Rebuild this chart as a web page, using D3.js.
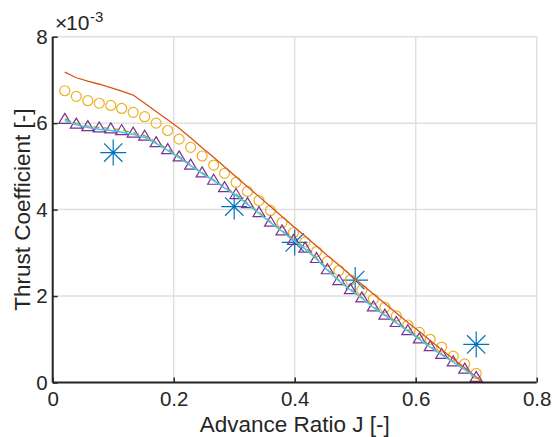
<!DOCTYPE html>
<html>
<head>
<meta charset="utf-8">
<script src="https://cdn.jsdelivr.net/npm/d3@7"></script>
<style>
  body { margin: 0; background: #fff; }
  svg text { font-family: "Liberation Sans", Arial, sans-serif; fill: #262626; }
</style>
</head>
<body>
<div id="chart"></div>
<script>
// Advance ratio grid shared by the marker series
const jGrid = [0.020, 0.039, 0.058, 0.077, 0.096, 0.114, 0.133, 0.152, 0.171, 0.190,
  0.209, 0.228, 0.247, 0.266, 0.284, 0.303, 0.322, 0.341, 0.360, 0.379,
  0.398, 0.417, 0.436, 0.454, 0.473, 0.492, 0.511, 0.530, 0.549, 0.568,
  0.587, 0.606, 0.624, 0.643, 0.662, 0.681, 0.700];

// thrust coefficient values, in units of 1e-3
const ctRed = [7.18, 7.05, 6.97, 6.90, 6.82, 6.74, 6.65, 6.46, 6.27, 6.08,
  5.88, 5.66, 5.43, 5.21, 4.99, 4.76, 4.53, 4.30, 4.07, 3.84,
  3.61, 3.39, 3.16, 2.94, 2.72, 2.49, 2.27, 2.05, 1.83, 1.61,
  1.39, 1.18, 0.97, 0.76, 0.55, 0.34, 0.13];
const jRedEnd = 0.711;
const ctRedEnd = 0;

const ctCircles = [6.75, 6.62, 6.52, 6.46, 6.41, 6.34, 6.25, 6.15, 6.00, 5.83,
  5.63, 5.44, 5.24, 5.03, 4.84, 4.63, 4.42, 4.21, 3.98, 3.70,
  3.47, 3.25, 3.03, 2.80, 2.59, 2.37, 2.14, 1.93, 1.74, 1.54,
  1.33, 1.16, 1.00, 0.82, 0.61, 0.43, 0.21];

const ctTriangles = [6.10, 5.99, 5.93, 5.90, 5.88, 5.84, 5.78, 5.71, 5.56, 5.40,
  5.23, 5.04, 4.86, 4.69, 4.52, 4.36, 4.15, 3.94, 3.72, 3.52,
  3.30, 3.12, 2.88, 2.62, 2.37, 2.16, 1.97, 1.76, 1.57, 1.40,
  1.21, 1.02, 0.84, 0.66, 0.49, 0.32, 0.13];

const ctCyan = [6.06, 5.96, 5.90, 5.86, 5.83, 5.79, 5.74, 5.67, 5.53, 5.37,
  5.20, 5.02, 4.84, 4.67, 4.50, 4.33, 4.12, 3.91, 3.70, 3.50,
  3.28, 3.09, 2.86, 2.60, 2.35, 2.14, 1.95, 1.74, 1.55, 1.38,
  1.19, 1.00, 0.82, 0.64, 0.47, 0.30, 0.11];

const jStars = [0.1, 0.3, 0.4, 0.5, 0.7];
const ctStars = [5.32, 4.07, 3.24, 2.37, 0.88];

const xTicks = [0, 0.2, 0.4, 0.6, 0.8];
const yTicks = [0, 2, 4, 6, 8];

const W = 555, H = 437;
const margin = { top: 36.7, right: 18.3, bottom: 54.5, left: 52.7 };
const width = W - margin.left - margin.right;
const height = H - margin.top - margin.bottom;

const svg = d3.select('#chart').append('svg')
  .attr('width', W).attr('height', H);

const g = svg.append('g')
  .attr('transform', 'translate(' + margin.left + ',' + margin.top + ')');

const x = d3.scaleLinear().domain([0, 0.8]).range([0, width]);
const y = d3.scaleLinear().domain([0, 8]).range([height, 0]);

// grid
g.append('g').selectAll('line.vg').data(xTicks).enter().append('line')
  .attr('x1', d => x(d)).attr('x2', d => x(d))
  .attr('y1', 0).attr('y2', height)
  .attr('stroke', '#dfdfdf').attr('stroke-width', 1.5);
g.append('g').selectAll('line.hg').data(yTicks).enter().append('line')
  .attr('x1', 0).attr('x2', width)
  .attr('y1', d => y(d)).attr('y2', d => y(d))
  .attr('stroke', '#dfdfdf').attr('stroke-width', 1.5);

g.append('defs').append('clipPath').attr('id', 'clip')
  .append('rect').attr('width', width).attr('height', height);

const plot = g.append('g');
const clipped = g.append('g').attr('clip-path', 'url(#clip)');

// stars
const r = 13, d2 = r * 0.7071;
const starPath = 'M' + (-r) + ',0H' + r + 'M0,' + (-r) + 'V' + r +
  'M' + (-d2) + ',' + (-d2) + 'L' + d2 + ',' + d2 +
  'M' + (-d2) + ',' + d2 + 'L' + d2 + ',' + (-d2);
plot.selectAll('path.star').data(jStars).enter().append('path')
  .attr('class', 'star')
  .attr('transform', (d, i) => 'translate(' + x(d) + ',' + y(ctStars[i]) + ')')
  .attr('d', starPath)
  .attr('fill', 'none').attr('stroke', '#0072BD').attr('stroke-width', 1.2);

// red line
const redPts = jGrid.map((j, i) => [j, ctRed[i]]).concat([[jRedEnd, ctRedEnd]]);
const line = d3.line().x(d => x(d[0])).y(d => y(d[1]));
clipped.append('path').datum(redPts)
  .attr('d', line).attr('fill', 'none')
  .attr('stroke', '#D95319').attr('stroke-width', 1.3);

// circles
plot.selectAll('circle.c').data(jGrid).enter().append('circle')
  .attr('cx', d => x(d)).attr('cy', (d, i) => y(ctCircles[i]))
  .attr('r', 5)
  .attr('fill', 'none').attr('stroke', '#EDB120').attr('stroke-width', 1.2);

// green dashed line
clipped.append('path').datum(jGrid.map((j, i) => [j, ctTriangles[i]]))
  .attr('d', line).attr('fill', 'none')
  .attr('stroke', '#77AC30').attr('stroke-width', 1.2)
  .attr('stroke-dasharray', '6,4');

// triangles
plot.selectAll('path.tri').data(jGrid).enter().append('path')
  .attr('transform', (d, i) => 'translate(' + x(d) + ',' + y(ctTriangles[i]) + ')')
  .attr('d', 'M0,-5.5L6,4.5L-6,4.5Z')
  .attr('fill', 'none').attr('stroke', '#7E2F8E').attr('stroke-width', 1.2);

// cyan line
clipped.append('path').datum(jGrid.map((j, i) => [j, ctCyan[i]]))
  .attr('d', line).attr('fill', 'none')
  .attr('stroke', '#4DBEEE').attr('stroke-width', 1.5);

// axes
const xAxis = g.append('g')
  .attr('transform', 'translate(0,' + height + ')')
  .call(d3.axisBottom(x).tickValues(xTicks).tickSize(-5).tickPadding(9)
    .tickFormat(d => d === 0 ? '0' : d3.format('.1f')(d)));
const yAxis = g.append('g')
  .call(d3.axisLeft(y).tickValues(yTicks).tickSize(-5).tickPadding(5)
    .tickFormat(d3.format('d')));

[xAxis, yAxis].forEach(a => {
  a.select('.domain').attr('stroke', '#262626').attr('stroke-width', 2);
  a.selectAll('.tick line').attr('stroke', '#262626').attr('stroke-width', 1.5);
  a.selectAll('.tick text').attr('fill', '#262626')
    .style('font-size', '20.5px')
    .style('font-family', '"Liberation Sans", Arial, sans-serif');
});
xAxis.select('.domain').attr('d', 'M0,0H' + width);
yAxis.select('.domain').attr('d', 'M0,0V' + height);

// labels
svg.append('text')
  .attr('x', margin.left + width / 2).attr('y', 432)
  .attr('text-anchor', 'middle')
  .style('font-size', '22.5px')
  .text('Advance Ratio J [-]');

svg.append('text')
  .attr('transform', 'translate(29.5,' + (margin.top + height / 2) + ') rotate(-90)')
  .attr('text-anchor', 'middle')
  .style('font-size', '22.5px')
  .text('Thrust Coefficient [-]');

// exponent label, drawn as separate pieces
svg.append('text').attr('x', 55).attr('y', 30)
  .style('font-size', '21px').text('\u00d7');
svg.append('text').attr('x', 66).attr('y', 30)
  .style('font-size', '21px').text('10');
svg.append('text').attr('x', 90).attr('y', 21.5)
  .style('font-size', '15px').text('-3');
</script>
</body>
</html>
